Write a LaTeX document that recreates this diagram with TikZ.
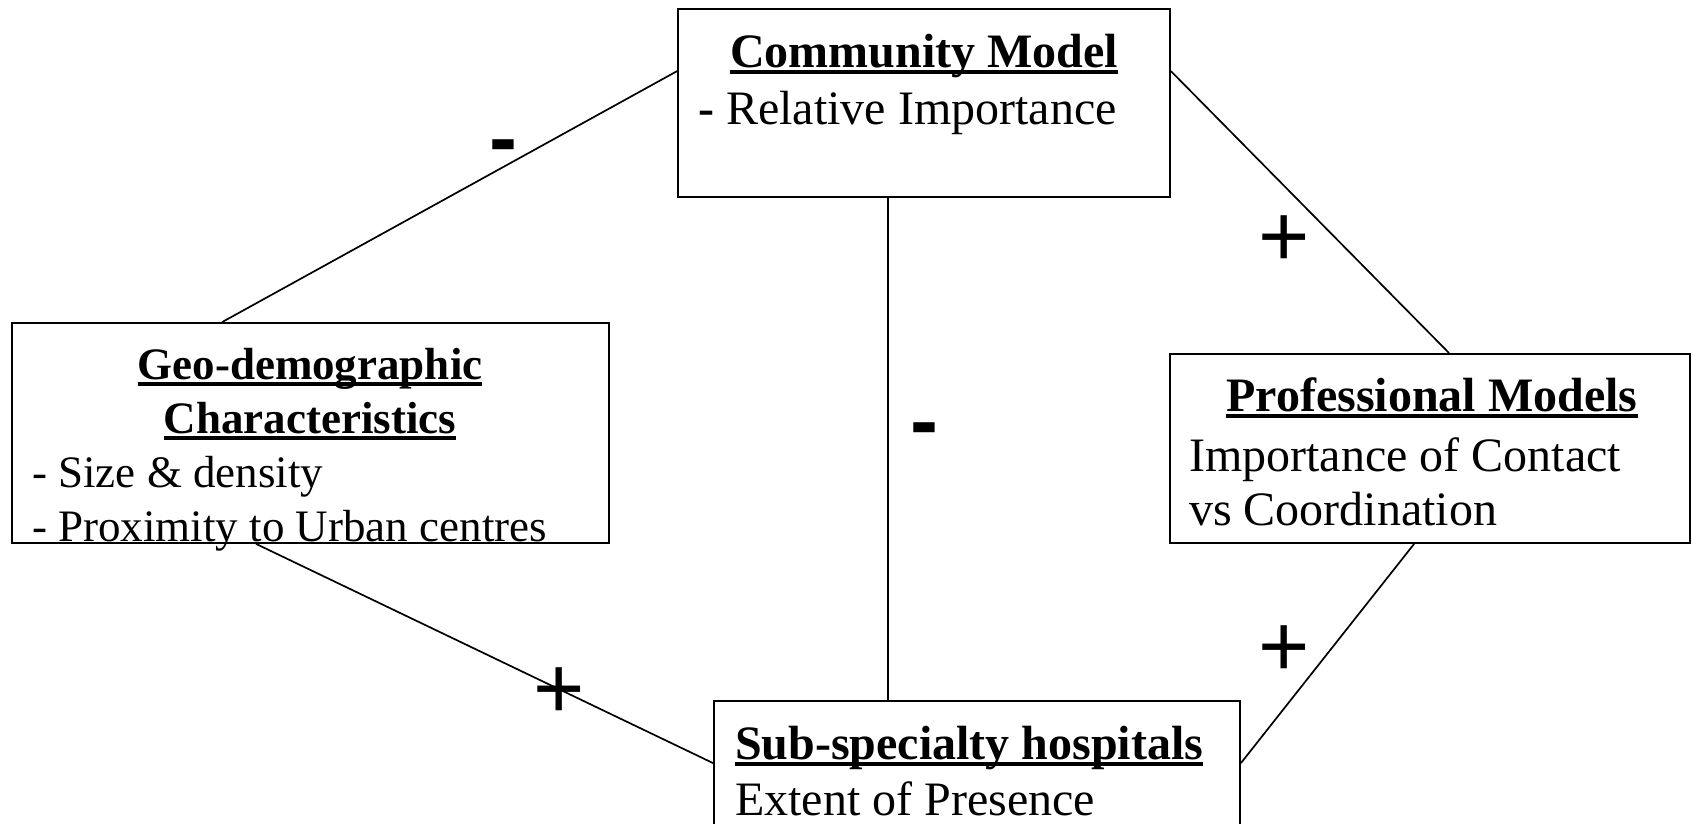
\documentclass[tikz,border=0pt]{standalone}
\usepackage{fontspec}
\setmainfont{Liberation Serif}
\newfontfamily\signfont{Liberation Sans}
\usetikzlibrary{calc}
\newlength\ulw
\newcommand\myul[1]{\settowidth\ulw{#1}\rlap{\rule[-0.15em]{\ulw}{0.08em}}#1}
\tikzset{
  box/.style={draw, line width=1.8pt, rectangle, inner sep=0pt, fill=white},
  link/.style={line width=1.7pt},
  big/.style={font=\fontsize{48}{57.6}\selectfont, inner sep=0pt},
  mid/.style={font=\fontsize{45}{54}\selectfont, inner sep=0pt},
  plussign/.style={font=\signfont\fontsize{88}{100}\selectfont, inner sep=0pt},
  minussign/.style={font=\signfont\bfseries\fontsize{84}{90}\selectfont, inner sep=0pt},
}
\begin{document}
\begin{tikzpicture}[x=1pt,y=-1pt]
\useasboundingbox (0,0) rectangle (1692,823);
\clip (0,0) rectangle (1692,823);
\fill[white] (0,0) rectangle (1692,823);

% boxes
\node[box, minimum width=492pt, minimum height=188pt] (cm) at (924,103) {};
\node[box, minimum width=597pt, minimum height=220pt] (geo) at (310.5,433) {};
\node[box, minimum width=520pt, minimum height=189pt] (pm) at (1430,448.5) {};
\node[box, minimum width=526pt, minimum height=179pt] (sub) at (977,790.5) {};

% connectors
\coordinate (a1) at ($(cm.north west)+(0,63)$);
\coordinate (b1) at ($(geo.north west)+(211,0)$);
\coordinate (a2) at ($(cm.north east)+(0,63)$);
\coordinate (b2) at ($(pm.north west)+(280,0)$);
\coordinate (a3) at ($(cm.south west)+(211,0)$);
\coordinate (b3) at (a3 |- sub.north);
\coordinate (a4) at ($(geo.south west)+(245,0)$);
\coordinate (b4) at ($(sub.north west)+(0,63)$);
\coordinate (a5) at ($(pm.south west)+(245,0)$);
\coordinate (b5) at ($(sub.north east)+(0,63)$);
\draw[link] (a1) -- (b1);
\draw[link] (a2) -- (b2);
\draw[link] (a3) -- (b3);
\draw[link] (a4) -- (b4);
\draw[link] (a5) -- (b5);

% community text
\node[big, anchor=base] (cmt) at (924,67) {\myul{\textbf{Community Model}}};
\node[big, anchor=base west] (cml) at (698,124) {\textbf{-} Relative Importance};

% geo text
\node[mid, anchor=base] (geot1) at (310,379) {\myul{\textbf{Geo-demographic}}};
\node[mid, anchor=base] (geot2) at (310,433) {\myul{\textbf{Characteristics}}};
\node[mid, anchor=base west] (geol1) at (32,487) {- Size \& density};
\node[mid, anchor=base west] (geol2) at (32,541) {- Proximity to Urban centres};

% professional text
\node[big, anchor=base] (pmt) at (1432,411) {\myul{\textbf{Professional Models}}};
\node[big, anchor=base west] (pml1) at (1189,471) {Importance of Contact};
\node[big, anchor=base west] (pml2) at (1189,525) {vs Coordination};

% sub-specialty text
\node[big, anchor=base west] (subt) at (735,759) {\myul{\textbf{Sub-specialty hospitals}}};
\node[big, anchor=base west] (subl) at (735,815) {Extent of Presence};

% signs
\node[minussign] (m1) at (503,153) {-};
\node[minussign] (m2) at (924,436) {-};
\node[plussign] (p1) at (1284,241) {+};
\node[plussign] (p2) at (559,693) {+};
\node[plussign] (p3) at (1284,651) {+};
\end{tikzpicture}
\end{document}
